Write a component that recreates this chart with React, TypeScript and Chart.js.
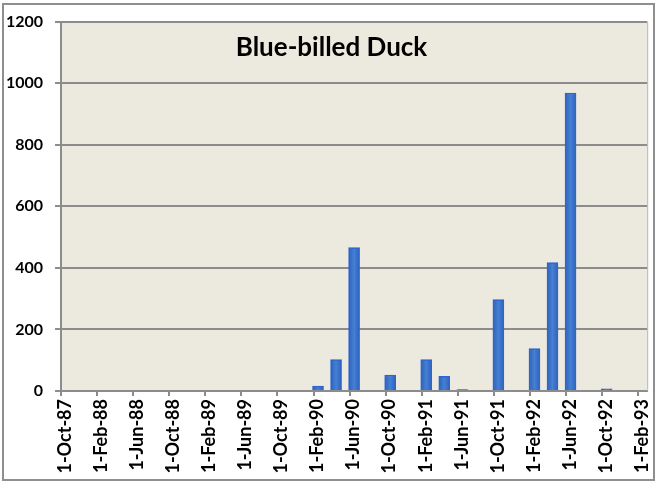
import React, { useEffect, useRef } from "react";
import { Chart, registerables } from "chart.js";

Chart.register(...registerables);

// ---- data ----
const TITLE = "Blue-billed Duck";
const BAR_DATES = [
  "1-Feb-90", "1-Apr-90", "1-Jun-90", "1-Oct-90", "1-Feb-91", "1-Apr-91",
  "1-Jun-91", "1-Oct-91", "1-Feb-92", "1-Apr-92", "1-Jun-92", "1-Oct-92",
];
const BAR_VALUES = [16, 102, 466, 52, 102, 48, 5, 297, 138, 417, 968, 7];
const X_TICK_LABELS = [
  "1-Oct-87", "1-Feb-88", "1-Jun-88", "1-Oct-88", "1-Feb-89", "1-Jun-89",
  "1-Oct-89", "1-Feb-90", "1-Jun-90", "1-Oct-90", "1-Feb-91", "1-Jun-91",
  "1-Oct-91", "1-Feb-92", "1-Jun-92", "1-Oct-92", "1-Feb-93",
];
const Y_MIN = 0;
const Y_MAX = 1200;
const Y_STEP = 200;

const MONTHS: Record<string, number> = {
  Jan: 0, Feb: 1, Mar: 2, Apr: 3, May: 4, Jun: 5,
  Jul: 6, Aug: 7, Sep: 8, Oct: 9, Nov: 10, Dec: 11,
};
function monthIndex(label: string): number {
  const parts = label.split("-");
  return (1900 + Number(parts[2])) * 12 + MONTHS[parts[1]];
}
const ORIGIN = monthIndex(X_TICK_LABELS[0]);
const TICK_VALUES = X_TICK_LABELS.map((l) => monthIndex(l) - ORIGIN);
const X_MAX = TICK_VALUES[TICK_VALUES.length - 1] + 1;
// bars sit in the middle of their month slot
const BAR_POINTS = BAR_DATES.map((d, i) => ({ x: monthIndex(d) - ORIGIN + 0.5, y: BAR_VALUES[i] }));

const FONT = "Lato, 'Open Sans', sans-serif";
const GRID = "#8c8c8c";
const PLOT_BG = "#ECE9DF";
const BAR_FLAT = "#3871C9";

const framePlugin = {
  id: "frame",
  beforeDraw(chart: any) {
    const { ctx, chartArea, width, height } = chart;
    ctx.save();
    ctx.fillStyle = "#ffffff";
    ctx.fillRect(0, 0, width, height);
    ctx.fillStyle = PLOT_BG;
    ctx.fillRect(chartArea.left, chartArea.top, chartArea.right - chartArea.left, chartArea.bottom - chartArea.top);
    ctx.restore();
  },
  afterDraw(chart: any) {
    const { ctx, chartArea } = chart;
    ctx.save();
    ctx.strokeStyle = "#b4b4b4";
    ctx.lineWidth = 1;
    ctx.beginPath();
    ctx.moveTo(chartArea.right + 0.5, chartArea.top);
    ctx.lineTo(chartArea.right + 0.5, chartArea.bottom);
    ctx.stroke();
    ctx.strokeStyle = "#8f8f8f";
    ctx.lineWidth = 2;
    ctx.strokeRect(3, 4, 651, 476);
    ctx.restore();
  },
};

export default function App() {
  const ref = useRef<HTMLCanvasElement>(null);

  useEffect(() => {
    if (!ref.current) return;
    const chart = new Chart(ref.current, {
      type: "bar",
      data: {
        datasets: [
          {
            data: BAR_POINTS as any,
            barThickness: 11,
            backgroundColor: (c: any) => {
              try {
                const ch = c.chart;
                const xs = ch && ch.scales && ch.scales.x;
                if (!xs || c.type !== "data" || !c.raw) return BAR_FLAT;
                const cx = xs.getPixelForValue(c.raw.x);
                if (!Number.isFinite(cx)) return BAR_FLAT;
                const g = ch.ctx.createLinearGradient(cx - 6, 0, cx + 6, 0);
                g.addColorStop(0, "#2C5FB8");
                g.addColorStop(0.5, "#4480D3");
                g.addColorStop(1, "#2C5FB8");
                return g;
              } catch (e) {
                return BAR_FLAT;
              }
            },
            borderColor: "#2E64CF",
            borderWidth: 1.5,
          },
        ],
      },
      options: {
        responsive: false,
        animation: false,
        devicePixelRatio: 1,
        layout: { padding: { left: 0, top: 15, right: 15, bottom: 0 } },
        plugins: { legend: { display: false }, tooltip: { enabled: false }, title: { display: false } },
        scales: {
          x: {
            type: "linear",
            min: 0,
            max: X_MAX,
            offset: false,
            afterBuildTicks: (s: any) => {
              s.ticks = TICK_VALUES.map((v) => ({ value: v }));
            },
            afterFit: (s: any) => {
              s.height = 91;
            },
            grid: { drawOnChartArea: false, drawTicks: true, tickLength: 5, color: GRID, lineWidth: 2, offset: false },
            border: { color: GRID, width: 2 },
            ticks: {
              autoSkip: false,
              maxRotation: 90,
              minRotation: 90,
              padding: 3,
              labelOffset: 4,
              color: "#000",
              font: { family: FONT, size: 18, weight: "bold" },
              callback: (v: any) => {
                const i = TICK_VALUES.indexOf(Number(v));
                return i >= 0 ? X_TICK_LABELS[i] : "";
              },
            },
          },
          y: {
            min: Y_MIN,
            max: Y_MAX,
            afterFit: (s: any) => {
              s.width = 61;
            },
            grid: { color: GRID, lineWidth: 2, tickLength: 6, drawTicks: true },
            border: { color: GRID, width: 2 },
            ticks: {
              stepSize: Y_STEP,
              padding: 12,
              color: "#000",
              font: { family: FONT, size: 16, weight: "bold" },
              callback: (v: any) => String(v),
            },
          },
        },
      },
      plugins: [framePlugin],
    });
    return () => chart.destroy();
  }, []);

  return (
    <div style={{ position: "fixed", left: 0, top: 0, width: 663, height: 482, background: "#fff" }}>
      <canvas ref={ref} width={663} height={482} style={{ width: 663, height: 482, display: "block" }} />
      <div
        style={{
          position: "absolute",
          left: 0,
          width: 663,
          top: 31,
          textAlign: "center",
          fontFamily: FONT,
          fontWeight: "bold",
          fontSize: 26,
          lineHeight: "30px",
          color: "#000",
        }}
      >
        {TITLE}
      </div>
    </div>
  );
}
